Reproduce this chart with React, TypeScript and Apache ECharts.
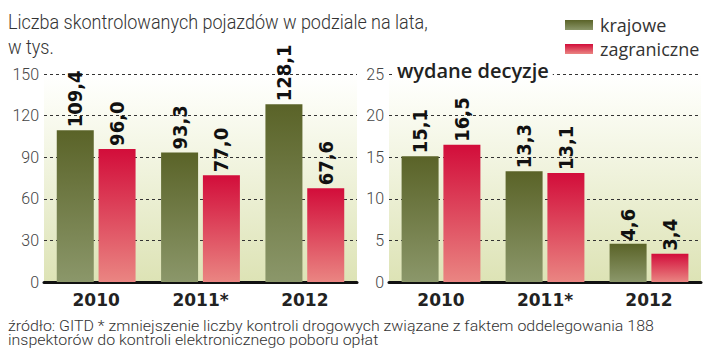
import React, { useEffect, useRef } from "react";
import * as echarts from "echarts";

const categories = ["2010", "2011*", "2012"];
const controlsDomestic = [109.4, 93.3, 128.1];
const controlsForeign = [96.0, 77.0, 67.6];
const decisionsDomestic = [15.1, 13.3, 4.6];
const decisionsForeign = [16.5, 13.1, 3.4];
const leftTicks = { min: 0, max: 150, interval: 30 };
const rightTicks = { min: 0, max: 25, interval: 5 };

const greenGrad = () =>
  new echarts.graphic.LinearGradient(0, 0, 0, 1, [
    { offset: 0, color: "#5a6328" },
    { offset: 1, color: "#8b976a" },
  ]);
const redGrad = () =>
  new echarts.graphic.LinearGradient(0, 0, 0, 1, [
    { offset: 0, color: "#d20d3a" },
    { offset: 1, color: "#ea8582" },
  ]);
const bgGrad = () =>
  new echarts.graphic.LinearGradient(0, 0, 0, 1, [
    { offset: 0, color: "#ffffff" },
    { offset: 0.15, color: "#fbfcf4" },
    { offset: 1, color: "#dde3b5" },
  ]);

const fmt = (p: any) => Number(p.value).toFixed(1).replace(".", ",");

export default function App() {
  const ref = useRef<HTMLDivElement>(null);
  useEffect(() => {
    if (!ref.current) return;
    const chart = echarts.init(ref.current, undefined, { renderer: "svg" });
    const labelStyle = {
      show: true,
      position: "top" as const,
      rotate: 90,
      align: "left" as const,
      verticalAlign: "middle" as const,
      distance: 3,
      formatter: fmt,
      fontFamily: "DejaVu Sans Condensed",
      fontWeight: "bold" as const,
      fontSize: 20,
      color: "#111",
    };
    const xAxisBase = {
      type: "category" as const,
      data: categories,
      axisTick: { show: false },
      axisLine: { lineStyle: { color: "#111", width: 3 } },
      axisLabel: {
        fontFamily: "DejaVu Sans",
        fontWeight: "bold" as const,
        fontSize: 17,
        color: "#222",
        margin: 9,
      },
    };
    const yAxisBase = {
      type: "value" as const,
      axisLine: { show: false },
      axisTick: { show: false },
      splitLine: { lineStyle: { color: "#333", type: [3, 3] as any, width: 1 } },
      axisLabel: {
        fontFamily: "Roboto",
        fontWeight: 300,
        fontSize: 16,
        color: "#444",
        margin: 5,
      },
    };
    const barBase = {
      type: "bar" as const,
      barWidth: 37,
      barGap: "13%",
      label: labelStyle,
    };
    chart.setOption({
      animation: false,
      textStyle: { fontFamily: "Roboto" },
      legend: {
        orient: "vertical",
        left: 560,
        top: 11,
        itemWidth: 28,
        itemHeight: 10,
        itemGap: 6,
        icon: "rect",
        textStyle: { fontFamily: "Open Sans", fontSize: 18, color: "#333", padding: [0, 0, 0, 2] },
        data: ["krajowe", "zagraniczne"],
      },
      grid: [
        { left: 44, right: 363, top: 74, bottom: 76, show: true, borderWidth: 0, backgroundColor: bgGrad() },
        { left: 389, right: 19, top: 74, bottom: 76, show: true, borderWidth: 0, backgroundColor: bgGrad() },
      ],
      xAxis: [
        { ...xAxisBase, gridIndex: 0 },
        { ...xAxisBase, gridIndex: 1 },
      ],
      yAxis: [
        { ...yAxisBase, gridIndex: 0, ...leftTicks },
        { ...yAxisBase, gridIndex: 1, ...rightTicks },
      ],
      series: [
        { ...barBase, name: "krajowe", xAxisIndex: 0, yAxisIndex: 0, data: controlsDomestic, itemStyle: { color: greenGrad() } },
        { ...barBase, name: "zagraniczne", xAxisIndex: 0, yAxisIndex: 0, data: controlsForeign, itemStyle: { color: redGrad() } },
        { ...barBase, name: "krajowe", xAxisIndex: 1, yAxisIndex: 1, data: decisionsDomestic, itemStyle: { color: greenGrad() } },
        { ...barBase, name: "zagraniczne", xAxisIndex: 1, yAxisIndex: 1, data: decisionsForeign, itemStyle: { color: redGrad() } },
      ],
      graphic: [
        {
          type: "text",
          x: 8,
          y: 10,
          scaleX: 0.9,
          style: {
            text: "Liczba skontrolowanych pojazdów w podziale na lata,\nw tys.",
            fontFamily: "Roboto",
            fontWeight: 300,
            fontSize: 20,
            lineHeight: 25,
            fill: "#333",
            verticalAlign: "top",
          },
        },
        {
          type: "text",
          left: 394,
          top: 60,
          z: 100,
          style: {
            text: "wydane decyzje",
            fontFamily: "Open Sans",
            fontWeight: 600,
            fontSize: 20,
            fill: "#222",
            backgroundColor: "#ffffff",
            padding: [0, 4, 0, 3],
          },
        },
        {
          type: "text",
          x: 8,
          y: 319,
          scaleX: 1.14,
          style: {
            text:
              "źródło: GITD * zmniejszenie liczby kontroli drogowych związane z faktem oddelegowania 188\ninspektorów do kontroli elektronicznego poboru opłat",
            fontFamily: "Roboto",
            fontWeight: 300,
            fontSize: 14,
            lineHeight: 14,
            fill: "#333",
            verticalAlign: "top",
          },
        },
      ],
    });
    return () => chart.dispose();
  }, []);
  return <div ref={ref} style={{ width: 720, height: 358, position: "absolute", left: 0, top: 0 }} />;
}
